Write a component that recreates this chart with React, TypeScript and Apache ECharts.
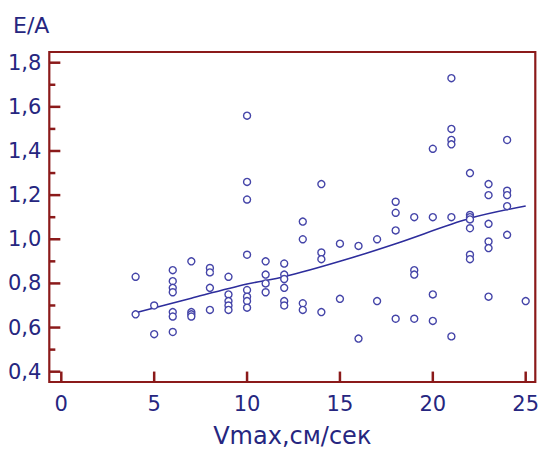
import React, { useEffect, useRef } from "react";
import * as echarts from "echarts";

// Scatter data: Vmax (cm/s) vs E/A
const vmax = [
  4, 4,
  5, 5,
  6, 6, 6, 6, 6, 6, 6,
  7, 7, 7, 7,
  8, 8, 8, 8,
  9, 9, 9, 9, 9,
  10, 10, 10, 10, 10, 10, 10, 10,
  11, 11, 11, 11,
  12, 12, 12, 12, 12, 12,
  13, 13, 13, 13,
  14, 14, 14, 14,
  15, 15,
  16, 16,
  17, 17,
  18, 18, 18, 18,
  19, 19, 19, 19,
  20, 20, 20, 20,
  21, 21, 21, 21, 21, 21,
  22, 22, 22, 22, 22, 22, 22,
  23, 23, 23, 23, 23, 23,
  24, 24, 24, 24, 24,
  25,
];
const ea = [
  0.83, 0.66,
  0.70, 0.57,
  0.86, 0.81, 0.78, 0.76, 0.67, 0.65, 0.58,
  0.90, 0.67, 0.66, 0.65,
  0.87, 0.85, 0.78, 0.68,
  0.83, 0.75, 0.72, 0.70, 0.68,
  1.56, 1.26, 1.18, 0.93, 0.77, 0.74, 0.72, 0.69,
  0.90, 0.84, 0.80, 0.76,
  0.89, 0.84, 0.82, 0.78, 0.72, 0.70,
  1.08, 1.00, 0.71, 0.68,
  1.25, 0.94, 0.91, 0.67,
  0.98, 0.73,
  0.97, 0.55,
  1.00, 0.72,
  1.17, 1.12, 1.04, 0.64,
  1.10, 0.86, 0.84, 0.64,
  1.41, 1.10, 0.75, 0.63,
  1.73, 1.50, 1.45, 1.43, 1.10, 0.56,
  1.30, 1.11, 1.10, 1.09, 1.05, 0.93, 0.91,
  1.25, 1.20, 1.07, 0.99, 0.96, 0.74,
  1.45, 1.22, 1.20, 1.15, 1.02,
  0.72,
];

// Fitted trend line
const trendX = [4, 7, 10, 12, 15, 18, 22, 25];
const trendY = [0.667, 0.733, 0.797, 0.83, 0.90, 0.98, 1.095, 1.151];

// Axis ticks
const xTicks = [0, 5, 10, 15, 20, 25];
const yTicks = [0.4, 0.6, 0.8, 1.0, 1.2, 1.4, 1.6, 1.8];
const yMinorTicks = [0.5, 0.7, 0.9, 1.1, 1.3, 1.5, 1.7];

// Axis extents (the frame reaches slightly past the end ticks)
const xRange = [-0.646, 25.517];
const yRange = [0.3533, 1.8485];

const FRAME = "#8b1a1a";
const TEXT = "#262680";
const FONT = "DejaVu Sans";

// Tick marks drawn as small rect symbols anchored on the frame edge
function tickMarks(data: number[][], size: number[], offset: number[]) {
  return {
    type: "scatter",
    data,
    symbol: "rect",
    symbolSize: size,
    symbolOffset: offset,
    silent: true,
    itemStyle: { color: FRAME, opacity: 1 },
    z: 5,
  };
}

export default function App() {
  const ref = useRef<HTMLDivElement>(null);
  useEffect(() => {
    if (!ref.current) return;
    const chart = echarts.init(ref.current, null, { renderer: "svg" });
    const points = vmax.map((x, i) => [x, ea[i]]);
    const line = trendX.map((x, i) => [x, trendY[i]]);
    const eps = 0.002;
    const xTickData = xTicks.map((v) => [v, yRange[0] + eps]);
    const yTickData = yTicks.map((v) => [xRange[0] + eps, v]);
    const yMinorData = yMinorTicks.map((v) => [xRange[0] + eps, v]);
    chart.setOption({
      animation: false,
      backgroundColor: "#ffffff",
      title: {
        text: "E/A",
        left: 8,
        top: 9,
        textStyle: { color: TEXT, fontFamily: FONT, fontSize: 22, fontWeight: "normal" },
      },
      grid: {
        left: 49.3,
        right: 5.7,
        top: 52,
        bottom: 68,
        containLabel: false,
        outerBoundsMode: "none",
        show: true,
        borderColor: FRAME,
        borderWidth: 2.2,
        backgroundColor: "rgba(0,0,0,0)",
      },
      xAxis: {
        type: "value",
        min: xRange[0],
        max: xRange[1],
        name: "Vmax,см/сек",
        nameLocation: "middle",
        nameGap: 42,
        nameTextStyle: { color: TEXT, fontFamily: FONT, fontSize: 24 },
        axisLine: { show: false },
        axisTick: { show: false },
        axisLabel: {
          color: TEXT,
          fontFamily: FONT,
          fontSize: 21,
          margin: 11,
          customValues: xTicks,
        },
        splitLine: { show: false },
      },
      yAxis: {
        type: "value",
        min: yRange[0],
        max: yRange[1],
        axisLine: { show: false },
        axisTick: { show: false },
        axisLabel: {
          color: TEXT,
          fontFamily: FONT,
          fontSize: 21,
          margin: 8,
          customValues: yTicks,
          formatter: (v: number) => v.toFixed(1).replace(".", ","),
        },
        splitLine: { show: false },
      },
      series: [
        tickMarks(xTickData, [2.5, 10], [0, -5]),
        tickMarks(yTickData, [11, 2.5], [5.5, 0]),
        tickMarks(yMinorData, [6, 2.5], [3, 0]),
        {
          type: "line",
          data: line,
          smooth: 0.3,
          showSymbol: false,
          symbol: "none",
          lineStyle: { color: "#2d2d9c", width: 1.6 },
          z: 3,
        },
        {
          type: "scatter",
          data: points,
          symbol: "circle",
          symbolSize: 7,
          itemStyle: { color: "#ffffff", opacity: 1, borderColor: "#4444a8", borderWidth: 1.4 },
          z: 4,
        },
      ],
    });
    return () => chart.dispose();
  }, []);
  return (
    <div
      ref={ref}
      style={{ position: "fixed", left: 0, top: 0, width: 541, height: 450 }}
    />
  );
}
